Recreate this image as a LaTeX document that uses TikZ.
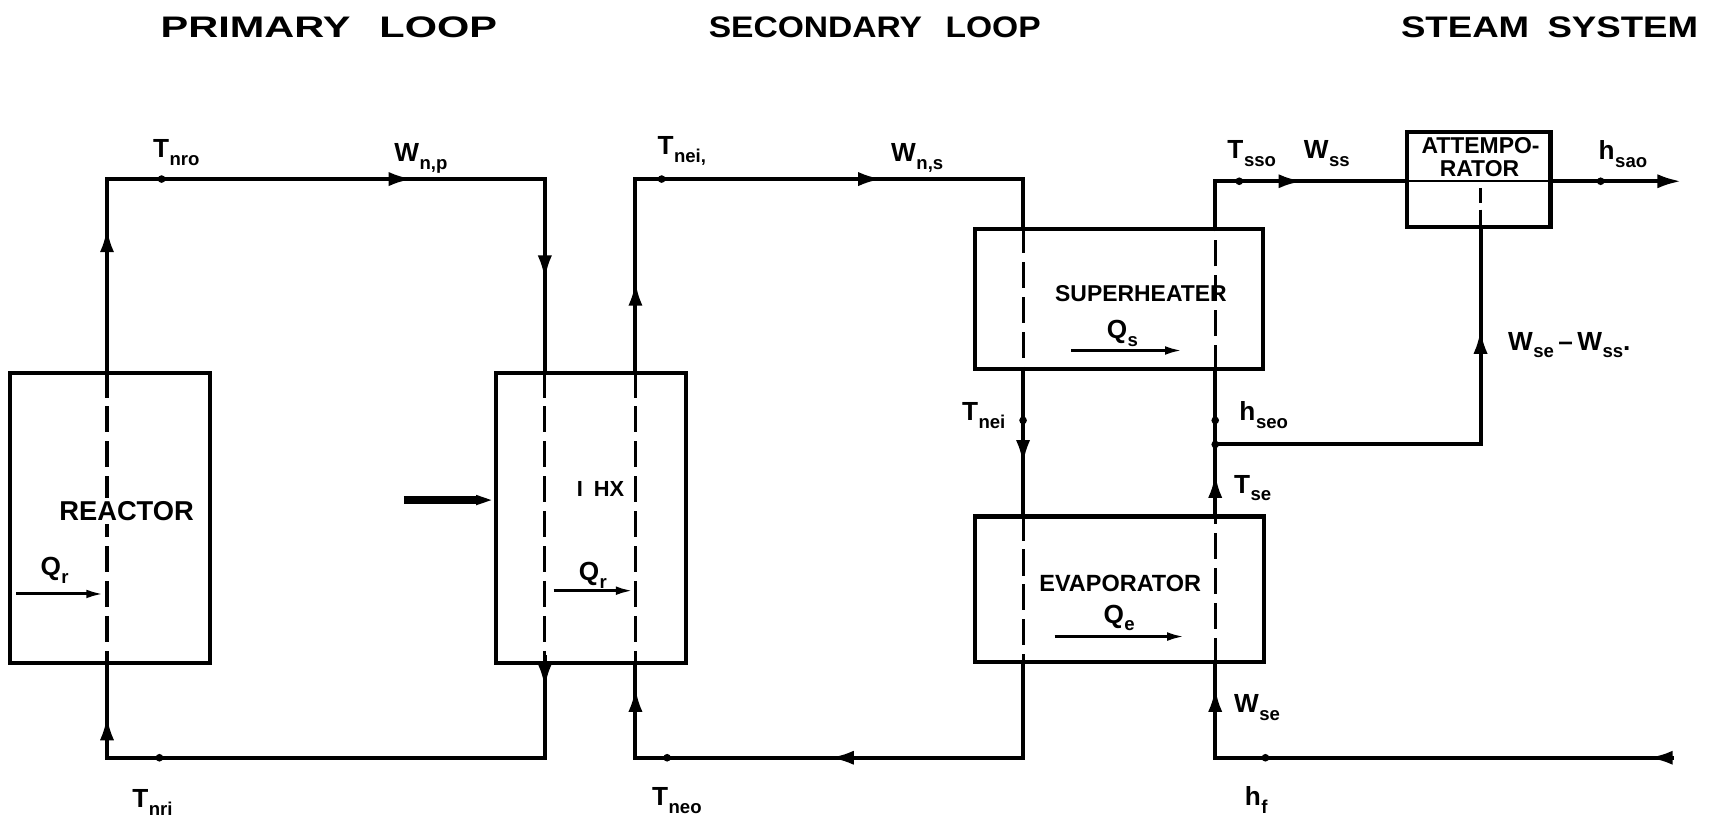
\documentclass[tikz,border=0pt]{standalone}
\usepackage{fontspec}
\setmainfont{Liberation Sans}
\usetikzlibrary{arrows.meta}
\newcommand{\lb}[2]{#1\kern0.5pt\raisebox{-0.3em}{\fontsize{17}{17}\selectfont #2}}
\begin{document}
\begin{tikzpicture}[x=1pt,y=-1pt,
  ln/.style={line width=3.6pt},
  dl/.style={line width=2.8pt, dash pattern=on 24pt off 8pt},
  box/.style={draw, line width=3.8pt, inner sep=0pt},
  tip/.style={line width=3.6pt, -{Latex[length=22pt,width=13pt]}},
  qtip/.style={line width=2.8pt, -{Latex[length=16pt,width=8pt]}},
  lab/.style={inner sep=0pt, font=\fontsize{24}{24}\selectfont\bfseries},
  qlab/.style={inner sep=0pt, font=\fontsize{24}{24}\selectfont\bfseries},
  boxname/.style={inner sep=0pt, font=\fontsize{21}{21}\selectfont\bfseries},
  title/.style={inner sep=0pt, anchor=base west, font=\bfseries},
  dot/.style={circle, fill, inner sep=0pt, minimum size=7pt},
]
\useasboundingbox[fill=white] (0,0) rectangle (1568,761);

% titles
\node[title] (ttl1) at (147,34) {\resizebox{308pt}{19pt}{PRIMARY\hspace{0.7em}LOOP}};
\node[title] (ttl2) at (649,34) {\resizebox{304pt}{19pt}{SECONDARY\hspace{0.7em}LOOP}};
\node[title] (ttl3) at (1283,34) {\resizebox{272pt}{19pt}{STEAM\hspace{0.5em}SYSTEM}};

% boxes
\node[box, minimum width=183pt, minimum height=265pt] (reactor) at (100.5,474.5) {};
\node[box, minimum width=174pt, minimum height=265pt] (ihx) at (541,474.5) {};
\node[box, minimum width=264pt, minimum height=128pt] (sh) at (1025,274) {};
\node[box, minimum width=265pt, minimum height=133pt] (ev) at (1025.5,539.5) {};
\node[box, minimum width=131pt, minimum height=87pt] (att) at (1354.5,164.5) {};

% corner coordinates
\coordinate (p1) at (98,164);
\coordinate (p2) at (499,164);
\coordinate (p3) at (499,694);
\coordinate (p4) at (98,694);
\coordinate (s1) at (582,164);
\coordinate (s2) at (937,164);
\coordinate (s3) at (937,694);
\coordinate (s4) at (582,694);
\coordinate (f0) at (1533,694);
\coordinate (f1) at (1113,694);
\coordinate (t1) at (1113,166);
\coordinate (out) at (1540,166);
\coordinate (j) at (1113,407);
\coordinate (a1) at (1356,407);
\coordinate (a0) at (1356,172);
\coordinate (bar) at (370,458);

% primary loop
\draw[ln] (p1 |- reactor.north) -- (p1) -- (p2) -- (p2 |- ihx.north);
\draw[dl] (p1 |- reactor.north) -- (p1 |- reactor.south);
\draw[ln] (p1 |- reactor.south) -- (p4) -- (p3) -- (p2 |- ihx.south);
\draw[dl] (p2 |- ihx.north) -- (p2 |- ihx.south);

% secondary loop
\draw[ln] (s1 |- ihx.north) -- (s1) -- (s2) -- (s2 |- sh.north);
\draw[dl] (s2 |- sh.north) -- (s2 |- sh.south);
\draw[ln] (s2 |- sh.south) -- (s2 |- ev.north);
\draw[dl] (s2 |- ev.north) -- (s2 |- ev.south);
\draw[ln] (s2 |- ev.south) -- (s3) -- (s4) -- (s1 |- ihx.south);
\draw[dl] (s1 |- ihx.north) -- (s1 |- ihx.south);

% steam system
\draw[ln] (f0) -- (f1) -- (f1 |- ev.south);
\draw[dl] (f1 |- ev.south) -- (f1 |- ev.north);
\draw[ln] (f1 |- ev.north) -- (f1 |- sh.south);
\draw[dl] (f1 |- sh.south) -- (f1 |- sh.north);
\draw[ln] (f1 |- sh.north) -- (t1) -- (t1 -| att.west);
\draw[line width=2.2pt] (t1 -| att.west) -- (t1 -| att.east);
\draw[tip] (t1 -| att.east) -- (out);
\draw[dl, dash pattern=on 14pt off 6pt] (a0) -- (a0 |- att.south);
\draw[ln] (a0 |- att.south) -- (a1) -- (j);

% heating bar to IHX
\draw[line width=8pt, -{Triangle[length=16pt,width=8pt]}] (bar) -- (bar -| ihx.west);

% flow arrow tips
\draw[tip] (98,240) -- (98,209);
\draw[tip] (350,164) -- (378,164);
\draw[tip] (499,225) -- (499,256);
\draw[tip] (582,290) -- (582,258);
\draw[tip] (775,164) -- (808,164);
\draw[tip] (499,600) -- (499,630);
\draw[tip] (582,662) -- (582,630);
\draw[tip] (98,690) -- (98,656);
\draw[tip] (795,694) -- (760,694);
\draw[tip] (937,395) -- (937,425);
\draw[tip] (1113,466) -- (1113,434);
\draw[tip] (1113,662) -- (1113,630);
\draw[tip] (1356,334) -- (1356,302);
\draw[tip] (1160,166) -- (1193,166);
\draw[tip] (1533,694) -- (1510,694);

% heat flow arrows
\draw[qtip] (15,544) -- (95,544);
\draw[qtip] (507,541) -- (580,541);
\draw[qtip] (981,321) -- (1083,321);
\draw[qtip] (966,583) -- (1085,583);

% dots
\node[dot] (dTnro) at (148,164) {};
\node[dot] (dTnei1) at (606,164) {};
\node[dot] (dTsso) at (1135,166) {};
\node[dot] (dhsao) at (1466,166) {};
\node[dot] (dTnei2) at (937,385) {};
\node[dot] (dhseo) at (1113,385) {};
\node[dot] (dj) at (j) {};
\node[dot] (dTnri) at (146,694) {};
\node[dot] (dTneo) at (611,694) {};
\node[dot] (dhf) at (1159,694) {};

% box names
\node[boxname, font=\fontsize{25}{25}\selectfont\bfseries, fill=white, inner sep=3pt] (nreac) at (116,468) {REACTOR};
\node[boxname, font=\fontsize{20}{20}\selectfont\bfseries] (nihx) at (550,448) {I\hspace{0.5em}HX};
\node[boxname] (nsh) at (1045,269) {SUPERHEATER};
\node[boxname, font=\fontsize{21.5}{21.5}\selectfont\bfseries] (nev) at (1026,534) {EVAPORATOR};
\node[boxname] (natt1) at (1356,133) {ATTEMPO-};
\node[boxname] (natt2) at (1355,154) {RATOR};

% labels
\node[lab, anchor=west] (lTnro) at (140,140) {\lb{T}{nro}};
\node[lab, anchor=west] (lWnp) at (361,145) {\lb{W}{n,p}};
\node[lab, anchor=west] (lTnei1) at (602,138) {\lb{T}{nei,}};
\node[lab, anchor=west] (lWns) at (816,145) {\lb{W}{n,s}};
\node[lab, anchor=west] (lTsso) at (1124,141) {\lb{T}{sso}};
\node[lab, anchor=west] (lWss) at (1194,141) {\lb{W}{ss}};
\node[lab, anchor=west] (lhsao) at (1464,141) {\lb{h}{sao}};
\node[lab, anchor=west] (lWdiff) at (1381,316) {\lb{W}{se}\,–\,\lb{W}{ss}.};
\node[lab, anchor=west] (lhseo) at (1135,380) {\lb{h}{seo}};
\node[lab, anchor=east] (lTnei2) at (921,381) {\lb{T}{nei}};
\node[lab, anchor=west] (lTse) at (1130,447) {\lb{T}{se}};
\node[lab, anchor=west] (lWse) at (1130,648) {\lb{W}{se}};
\node[lab, anchor=west] (lhf) at (1140,733) {\lb{h}{f}};
\node[lab, anchor=west] (lTnri) at (121,735) {\lb{T}{nri}};
\node[lab, anchor=west] (lTneo) at (597,733) {\lb{T}{neo}};
\node[qlab] (lQr1) at (50,522) {\lb{Q}{r}};
\node[qlab] (lQr2) at (543,527) {\lb{Q}{r}};
\node[qlab] (lQs) at (1028,305) {\lb{Q}{s}};
\node[qlab] (lQe) at (1025,566) {\lb{Q}{e}};
\end{tikzpicture}
\end{document}
